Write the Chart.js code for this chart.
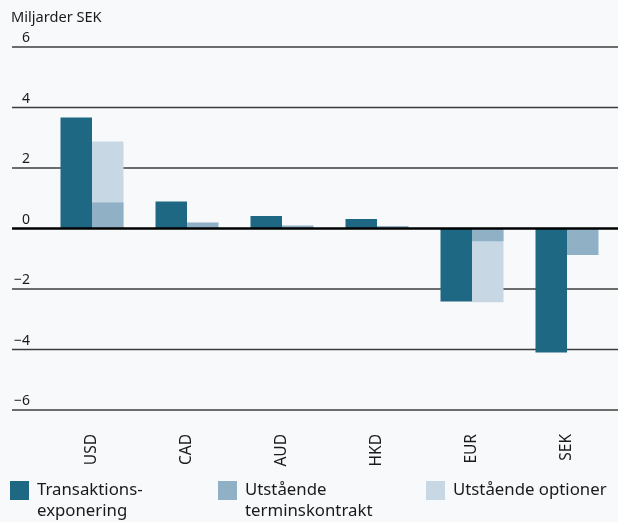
<!DOCTYPE html>
<html>
<head>
<meta charset="utf-8">
<script src="https://cdn.jsdelivr.net/npm/chart.js@4.4.1/dist/chart.umd.min.js"></script>
<style>
  html, body { margin: 0; padding: 0; background: #f7f9fb; }
  #wrap { position: relative; width: 618px; height: 522px; overflow: hidden; font-family: "Noto Sans", "Open Sans", sans-serif; color: #1a1a1a; }
  #chart { position: absolute; left: 0; top: 0; }
  #title { position: absolute; left: 11px; top: 6px; font-size: 14.6px; }
  .lg { position: absolute; top: 481px; }
  .lg .box { position: absolute; left: 0; top: 0; width: 19px; height: 19px; }
  .lg .txt { position: absolute; left: 27px; top: -3px; font-size: 16.8px; line-height: 21px; white-space: nowrap; }
</style>
</head>
<body>
<div id="wrap">
  <canvas id="chart" width="618" height="522"></canvas>
  <div id="title">Miljarder SEK</div>
  <div class="lg" style="left:10px"><div class="box" style="background:#1e6883"></div><div class="txt">Transaktions-<br>exponering</div></div>
  <div class="lg" style="left:218px"><div class="box" style="background:#8fb0c5"></div><div class="txt">Utstående<br>terminskontrakt</div></div>
  <div class="lg" style="left:426px"><div class="box" style="background:#c7d8e4"></div><div class="txt">Utstående optioner</div></div>
</div>
<script>
const categories = ['USD', 'CAD', 'AUD', 'HKD', 'EUR', 'SEK'];
const transaktionsexponering = [3.67, 0.89, 0.41, 0.31, -2.41, -4.10];
const terminskontrakt = [0.86, 0.20, 0.10, 0.08, -0.42, -0.88];
const optioner = [2.88, null, null, null, -2.44, null];
const yTickValues = [-6, -4, -2, 0, 2, 4, 6];
const yTickLabels = ['\u22126', '\u22124', '\u22122', '0', '2', '4', '6'];

const gridPlugin = {
  id: 'fullGrid',
  beforeDatasetsDraw(chart) {
    const ctx = chart.ctx, y = chart.scales.y;
    ctx.save();
    ctx.strokeStyle = '#3c3c3c';
    ctx.lineWidth = 1.5;
    ctx.font = '14px "Noto Sans", "Open Sans", sans-serif';
    ctx.fillStyle = '#1a1a1a';
    ctx.textAlign = 'right';
    ctx.textBaseline = 'alphabetic';
    yTickValues.forEach((v, i) => {
      const py = y.getPixelForValue(v);
      if (v !== 0) {
        ctx.beginPath();
        ctx.moveTo(12, py);
        ctx.lineTo(chart.width, py);
        ctx.stroke();
      }
      ctx.fillText(yTickLabels[i], 30, py - 5);
    });
    ctx.restore();
  },
  afterDatasetsDraw(chart) {
    const ctx = chart.ctx, y = chart.scales.y;
    const py = y.getPixelForValue(0);
    ctx.save();
    ctx.strokeStyle = '#000';
    ctx.lineWidth = 2.5;
    ctx.beginPath();
    ctx.moveTo(12, py);
    ctx.lineTo(chart.width, py);
    ctx.stroke();
    ctx.restore();
  }
};

new Chart(document.getElementById('chart'), {
  type: 'bar',
  data: {
    labels: categories,
    datasets: [
      { label: 'Transaktionsexponering', data: transaktionsexponering, backgroundColor: '#1e6883', stack: 'a' },
      { label: 'Utstående terminskontrakt', data: terminskontrakt, backgroundColor: '#8fb0c5', stack: 'b' },
      { label: 'Utstående optioner', data: optioner, backgroundColor: '#c7d8e4', stack: 'b' }
    ]
  },
  options: {
    responsive: false,
    animation: false,
    devicePixelRatio: 1,
    layout: { padding: { left: 44.5, right: 3.5, top: 47, bottom: 0 } },
    datasets: { bar: { categoryPercentage: 0.663, barPercentage: 1.0, borderWidth: 0 } },
    plugins: { legend: { display: false }, tooltip: { enabled: false }, title: { display: false } },
    scales: {
      x: {
        stacked: true,
        grid: { display: false, drawTicks: false },
        border: { display: false },
        ticks: {
          minRotation: 90, maxRotation: 90, padding: 24,
          color: '#1a1a1a',
          font: { family: '"Noto Sans", "Open Sans", sans-serif', size: 15.5 }
        },
        afterFit(scale) { scale.height = 112; }
      },
      y: {
        display: false,
        stacked: false,
        min: -6, max: 6,
        ticks: { stepSize: 2 }
      }
    }
  },
  plugins: [gridPlugin]
});
</script>
</body>
</html>
